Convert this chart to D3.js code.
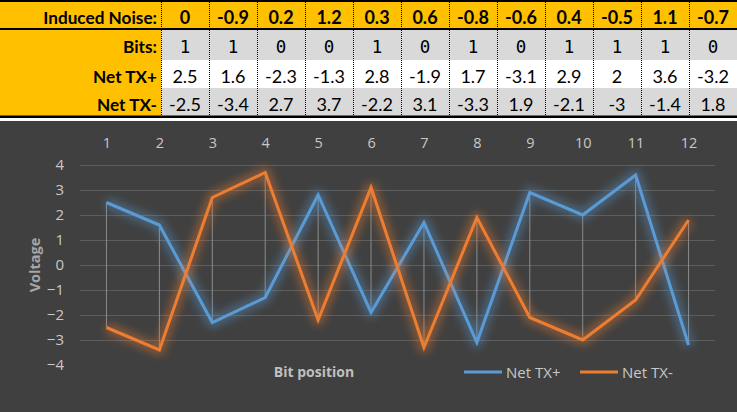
<!DOCTYPE html>
<html><head><meta charset="utf-8">
<script src="https://cdn.jsdelivr.net/npm/d3@7"></script>
<style>
html,body{margin:0;padding:0;background:#fff;}
svg{display:block;}
</style></head>
<body>
<svg id="c" width="737" height="412"></svg>
<script>
const positions = [1,2,3,4,5,6,7,8,9,10,11,12];
const noise = ["0","-0.9","0.2","1.2","0.3","0.6","-0.8","-0.6","0.4","-0.5","1.1","-0.7"];
const bits = [1,1,0,0,1,0,1,0,1,1,1,0];
const txPlus = [2.5,1.6,-2.3,-1.3,2.8,-1.9,1.7,-3.1,2.9,2,3.6,-3.2];
const txMinus = [-2.5,-3.4,2.7,3.7,-2.2,3.1,-3.3,1.9,-2.1,-3,-1.4,1.8];
const rowLabels = ["Induced Noise:","Bits:","Net TX+","Net TX-"];
const yTicks = [4,3,2,1,0,-1,-2,-3,-4];
const seriesNames = ["Net TX+","Net TX-"];
const seriesColors = ["#5b9bd5","#ed7d31"];

const svg = d3.select("#c");
const W = 737, H = 412;
const font = "Lato, 'Open Sans', sans-serif";

// ---------- table ----------
const colX = d3.scaleBand().domain(positions).range([161, 737]);
const rows = [
  {y0:2, y1:28, bg:"#ffc000", base:24},
  {y0:30, y1:60, bg:"#d9d9d9", base:53},
  {y0:60, y1:88, bg:"#ffffff", base:83},
  {y0:88, y1:116, bg:"#d9d9d9", base:111}
];
const tbl = svg.append("g");
tbl.append("rect").attr("x",0).attr("y",0).attr("width",W).attr("height",121).attr("fill","#fff");
rows.forEach((r,i)=>{
  tbl.append("rect").attr("x",0).attr("y",r.y0).attr("width",W).attr("height",r.y1-r.y0).attr("fill",r.bg);
});
tbl.append("rect").attr("x",0).attr("y",0).attr("width",161).attr("height",116).attr("fill","#ffc000");
tbl.append("rect").attr("x",0).attr("y",0).attr("width",W).attr("height",2).attr("fill","#000");
tbl.append("rect").attr("x",0).attr("y",28).attr("width",W).attr("height",2).attr("fill","#000");
tbl.append("rect").attr("x",0).attr("y",115.5).attr("width",W).attr("height",2.5).attr("fill","#000");
positions.forEach(p=>{
  tbl.append("line").attr("x1",colX(p)+0.5).attr("x2",colX(p)+0.5).attr("y1",0).attr("y2",116)
    .attr("stroke","#000").attr("stroke-width",1).attr("stroke-dasharray","1,1");
});
rowLabels.forEach((t,i)=>{
  tbl.append("text").attr("x",157).attr("y",rows[i].base).attr("text-anchor","end")
    .attr("font-family",font).attr("font-weight","bold").attr("font-size",17.2).attr("fill","#000").text(t);
});
const cell = (vals, i, opts) => {
  tbl.selectAll(null).data(vals).enter().append("text")
    .attr("x",(d,j)=>colX(positions[j])+colX.bandwidth()/2)
    .attr("y",rows[i].base).attr("text-anchor","middle")
    .attr("font-family",opts.family).attr("font-weight",opts.weight).attr("font-size",opts.size)
    .attr("fill","#000").text(d=>d);
};
cell(noise,0,{family:font,weight:"bold",size:18});
cell(bits,1,{family:"'DejaVu Sans Mono', monospace",weight:"normal",size:17.5});
cell(txPlus,2,{family:font,weight:"normal",size:18});
cell(txMinus,3,{family:font,weight:"normal",size:18});

// ---------- chart ----------
const chart = svg.append("g");
chart.append("rect").attr("x",0).attr("y",121).attr("width",W).attr("height",H-121).attr("fill","#404040");

const defs = svg.append("defs");
const f = defs.append("filter").attr("id","glow").attr("x","-20%").attr("y","-20%").attr("width","140%").attr("height","140%");
f.append("feGaussianBlur").attr("stdDeviation",4.5);

const x = d3.scaleBand().domain(positions).range([80, 715]);
const xc = d => x(d) + x.bandwidth()/2;
const y = d3.scaleLinear().domain([-4,4]).range([365,165]);
const cf = "'Open Sans', 'Noto Sans', sans-serif";

chart.append("g").selectAll("line").data(yTicks.filter(v=>v>-4)).enter().append("line")
  .attr("x1",80).attr("x2",715).attr("y1",d=>y(d)+0.5).attr("y2",d=>y(d)+0.5)
  .attr("stroke","#5d5d5d").attr("stroke-width",1);

const yAxis = d3.axisLeft(y).tickValues(yTicks).tickSize(0).tickPadding(0);
const ya = chart.append("g").attr("transform","translate(64,0)").call(yAxis);
ya.select(".domain").remove();
ya.selectAll("text").attr("font-family",cf).attr("font-size",15).attr("fill","#c8c8c8");

const xAxis = d3.axisTop(d3.scalePoint().domain(positions).range([xc(1), xc(12)])).tickSize(0).tickPadding(0);
const xa = chart.append("g").attr("transform","translate(0,143)").call(xAxis);
xa.select(".domain").remove();
xa.selectAll("text").attr("font-family",cf).attr("font-size",14.5).attr("fill","#c8c8c8").attr("dy","0.32em");

chart.append("g").selectAll("line").data(positions).enter().append("line")
  .attr("x1",(d)=>xc(d)).attr("x2",(d)=>xc(d))
  .attr("y1",(d,i)=>y(Math.max(txPlus[i],txMinus[i])))
  .attr("y2",(d,i)=>y(Math.min(txPlus[i],txMinus[i])))
  .attr("stroke","#8c8c8c").attr("stroke-width",1);

const line = d3.line().x((d,i)=>xc(positions[i])).y(d=>y(d));
[txPlus, txMinus].forEach((s,k)=>{
  chart.append("path").datum(s).attr("d",line).attr("fill","none")
    .attr("stroke",seriesColors[k]).attr("stroke-width",11).attr("stroke-opacity",0.4)
    .attr("stroke-linejoin","round").attr("filter","url(#glow)");
  chart.append("path").datum(s).attr("d",line).attr("fill","none")
    .attr("stroke",seriesColors[k]).attr("stroke-width",3).attr("stroke-linejoin","miter");
});

chart.append("text").attr("transform","translate(40,265) rotate(-90)").attr("text-anchor","middle")
  .attr("font-family",cf).attr("font-weight","bold").attr("font-size",14.5).attr("fill","#a6a6a6").text("Voltage");
chart.append("text").attr("x",314).attr("y",377).attr("text-anchor","middle")
  .attr("font-family",cf).attr("font-weight","bold").attr("font-size",14).attr("fill","#bfbfbf").text("Bit position");

const leg = chart.append("g");
const legX = [464, 580];
seriesNames.forEach((n,k)=>{
  leg.append("line").attr("x1",legX[k]).attr("x2",legX[k]+38).attr("y1",372).attr("y2",372)
    .attr("stroke",seriesColors[k]).attr("stroke-width",3);
  leg.append("text").attr("x",legX[k]+42).attr("y",377.5).attr("font-family",cf).attr("font-size",15)
    .attr("fill","#c8c8c8").text(n);
});
</script>
</body></html>
